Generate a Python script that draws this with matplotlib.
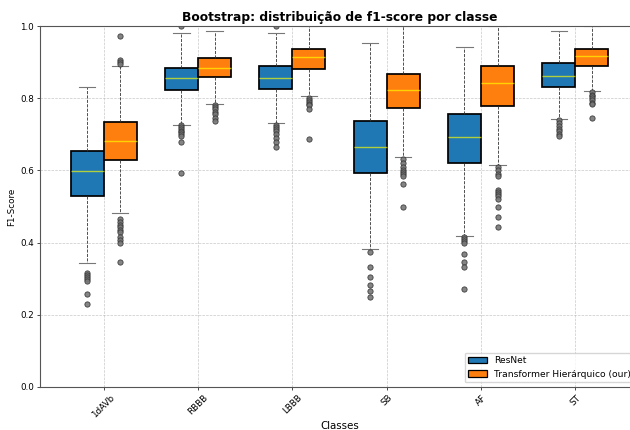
import numpy as np
import matplotlib
matplotlib.use("Agg")
import matplotlib.pyplot as plt
from matplotlib.patches import Patch

classes = ["1dAVb", "RBBB", "LBBB", "SB", "AF", "ST"]
models = ["ResNet", "Transformer Hierárquico (our)"]

# ResNet box stats
resnet_q1 = [0.530, 0.822, 0.825, 0.592, 0.620, 0.832]
resnet_med = [0.599, 0.857, 0.857, 0.666, 0.692, 0.862]
resnet_q3 = [0.654, 0.885, 0.889, 0.738, 0.755, 0.898]
resnet_lo = [0.344, 0.727, 0.731, 0.381, 0.419, 0.742]
resnet_hi = [0.830, 0.981, 0.981, 0.953, 0.942, 0.986]
resnet_fliers = [
    [0.315, 0.310, 0.305, 0.300, 0.295, 0.257, 0.230],
    [1.0, 0.725, 0.720, 0.715, 0.710, 0.705, 0.700, 0.695, 0.679, 0.594],
    [1.0, 0.727, 0.720, 0.715, 0.710, 0.700, 0.690, 0.680, 0.666],
    [0.374, 0.332, 0.306, 0.283, 0.266, 0.249],
    [0.416, 0.410, 0.405, 0.399, 0.368, 0.347, 0.332, 0.271],
    [0.739, 0.730, 0.722, 0.715, 0.708, 0.700, 0.694],
]

# Transformer box stats
trans_q1 = [0.628, 0.859, 0.882, 0.772, 0.778, 0.889]
trans_med = [0.681, 0.885, 0.913, 0.824, 0.843, 0.916]
trans_q3 = [0.734, 0.912, 0.936, 0.868, 0.889, 0.936]
trans_lo = [0.482, 0.784, 0.806, 0.636, 0.615, 0.821]
trans_hi = [0.889, 0.986, 1.0, 1.0, 1.0, 1.0]
trans_fliers = [
    [0.971, 0.906, 0.900, 0.895, 0.465, 0.458, 0.450, 0.442, 0.435, 0.428, 0.415, 0.408, 0.400, 0.347],
    [0.781, 0.775, 0.770, 0.762, 0.755, 0.746, 0.737],
    [0.800, 0.795, 0.790, 0.785, 0.780, 0.770, 0.686],
    [0.632, 0.620, 0.610, 0.600, 0.595, 0.590, 0.585, 0.561, 0.499],
    [0.610, 0.600, 0.590, 0.585, 0.545, 0.540, 0.535, 0.530, 0.520, 0.499, 0.470, 0.444],
    [0.817, 0.810, 0.805, 0.800, 0.795, 0.788, 0.783, 0.745],
]


def make_stats(q1, med, q3, lo, hi, fl):
    return [dict(q1=a, med=b, q3=c, whislo=d, whishi=e, fliers=f)
            for a, b, c, d, e, f in zip(q1, med, q3, lo, hi, fl)]


x = np.arange(1, len(classes) + 1)
w = 0.35
colors = ["#1f77b4", "#ff7f0e"]
fs = 6.3

fig = plt.figure(figsize=(6.3, 4.3), dpi=100)
ax = fig.add_axes([40 / 630, 43 / 430, 599 / 630, 361 / 430])

for i, (stats, col) in enumerate([
        (make_stats(resnet_q1, resnet_med, resnet_q3, resnet_lo, resnet_hi, resnet_fliers), colors[0]),
        (make_stats(trans_q1, trans_med, trans_q3, trans_lo, trans_hi, trans_fliers), colors[1])]):
    pos = x + (i - 0.5) * w
    ax.bxp(stats, positions=pos, widths=w, patch_artist=True,
           boxprops=dict(facecolor=col, edgecolor="black", linewidth=1.25),
           medianprops=dict(color="yellow", alpha=0.65, linewidth=1.0),
           whiskerprops=dict(color="#333333", linestyle="--", linewidth=0.6),
           capprops=dict(color="#777777", linewidth=0.8),
           flierprops=dict(marker="o", markerfacecolor="#777777", markeredgecolor="#333333",
                           markersize=3.8, markeredgewidth=0.6, alpha=0.9),
           manage_ticks=False)

ax.set_xlim(x[0] - w / 2 - 0.5, x[-1] + w / 2 + 0.5)
ax.set_ylim(0, 1.0)
ax.set_xticks(x)
ax.set_xticklabels(classes, rotation=45, fontsize=fs)
ax.tick_params(axis="both", labelsize=fs, length=2.2, width=0.5, pad=2.2)
ax.grid(True, linestyle="--", linewidth=0.5, alpha=0.7)
ax.set_axisbelow(True)
for s in ax.spines.values():
    s.set_color("#555555")
    s.set_linewidth(0.8)

ax.set_title("Bootstrap: distribuição de f1-score por classe", fontsize=8.8, weight="bold", pad=3.8)
ax.set_xlabel("Classes", fontsize=7.4, labelpad=1)
ax.set_ylabel("F1-Score", fontsize=fs, labelpad=2.5)

handles = [Patch(facecolor=c, edgecolor="black", linewidth=0.9) for c in colors]
ax.legend(handles, models, loc="lower right", fontsize=6.6)

fig.savefig("out.png", dpi=100)
